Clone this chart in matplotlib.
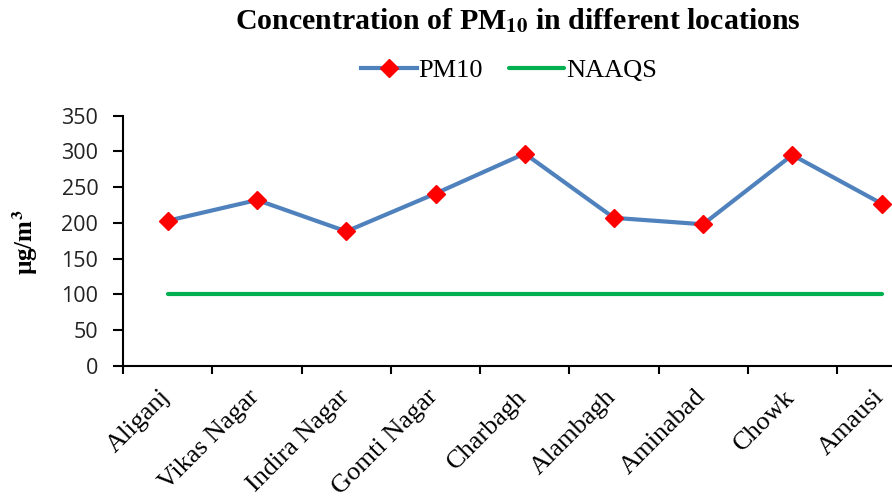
import numpy as np
import matplotlib
matplotlib.use("Agg")
import matplotlib.pyplot as plt
from matplotlib.transforms import ScaledTranslation

locations = ['Aliganj', 'Vikas Nagar', 'Indira Nagar', 'Gomti Nagar', 'Charbagh',
             'Alambagh', 'Aminabad', 'Chowk', 'Amausi']
pm10 = [203, 232, 188, 241, 297, 207, 198, 295, 227]
naaqs = [100] * len(locations)
y_ticks = [0, 50, 100, 150, 200, 250, 300, 350]

plt.rcParams['mathtext.fontset'] = 'stix'
serif = 'Liberation Serif'
sans = 'Open Sans'

fig = plt.figure(figsize=(8.92, 5.04), dpi=100)
# axes runs past the right edge of the picture, as in the original
ax = fig.add_axes([123.3 / 892, 138.3 / 504, 802.8 / 892, 250 / 504])

x = np.arange(len(locations))
ax.plot(x, pm10, color='#4F81BD', linewidth=3, marker='D', markersize=9.5,
        markerfacecolor='#FF0000', markeredgecolor='#FF0000', label='PM10', zorder=3)
ax.plot(x, naaqs, color='#00B050', linewidth=3, label='NAAQS', zorder=2,
        solid_capstyle='round')

ax.set_xlim(-0.5, len(locations) - 0.5)
ax.set_ylim(0, 350)
ax.set_yticks(y_ticks)
ax.set_yticklabels([str(v) for v in y_ticks], fontsize=15.5, family=sans, color='#222222')

ax.set_xticks(x)
ax.set_xticklabels(locations, rotation=45, ha='right', va='center', rotation_mode='anchor',
                   fontsize=19, family=serif)
ax.set_xticks(np.arange(-0.5, len(locations)), minor=True)
ax.tick_params(axis='x', which='major', length=0, pad=20)
ax.tick_params(axis='x', which='minor', length=6, width=1.5, direction='out')
ax.tick_params(axis='y', length=7, width=1.5, direction='out', pad=11)

# shift rotated labels so they end near the category centre
for lbl in ax.get_xticklabels():
    lbl.set_transform(lbl.get_transform() + ScaledTranslation(-1 / 100, 0, fig.dpi_scale_trans))

for s in ['top', 'right']:
    ax.spines[s].set_visible(False)
for s in ['left', 'bottom']:
    ax.spines[s].set_linewidth(1.5)

fig.text(25 / 892, 1 - 242 / 504, r'µg/m$^{\mathbf{3}}$', rotation=90, ha='center', va='center',
         fontsize=18, fontweight='bold', family=serif)

fig.text(518 / 892, 1 - 21 / 504, r'Concentration of PM$_{\mathbf{10}}$ in different locations',
         ha='center', va='center', fontsize=21.5, fontweight='bold', family=serif)

fig.legend(loc='center', bbox_to_anchor=(509 / 892, 1 - 70 / 504), ncol=2, frameon=False,
           prop={'family': serif, 'size': 19}, handlelength=2.1, handletextpad=0.05,
           columnspacing=1.0)

fig.savefig('out.png', dpi=100)
